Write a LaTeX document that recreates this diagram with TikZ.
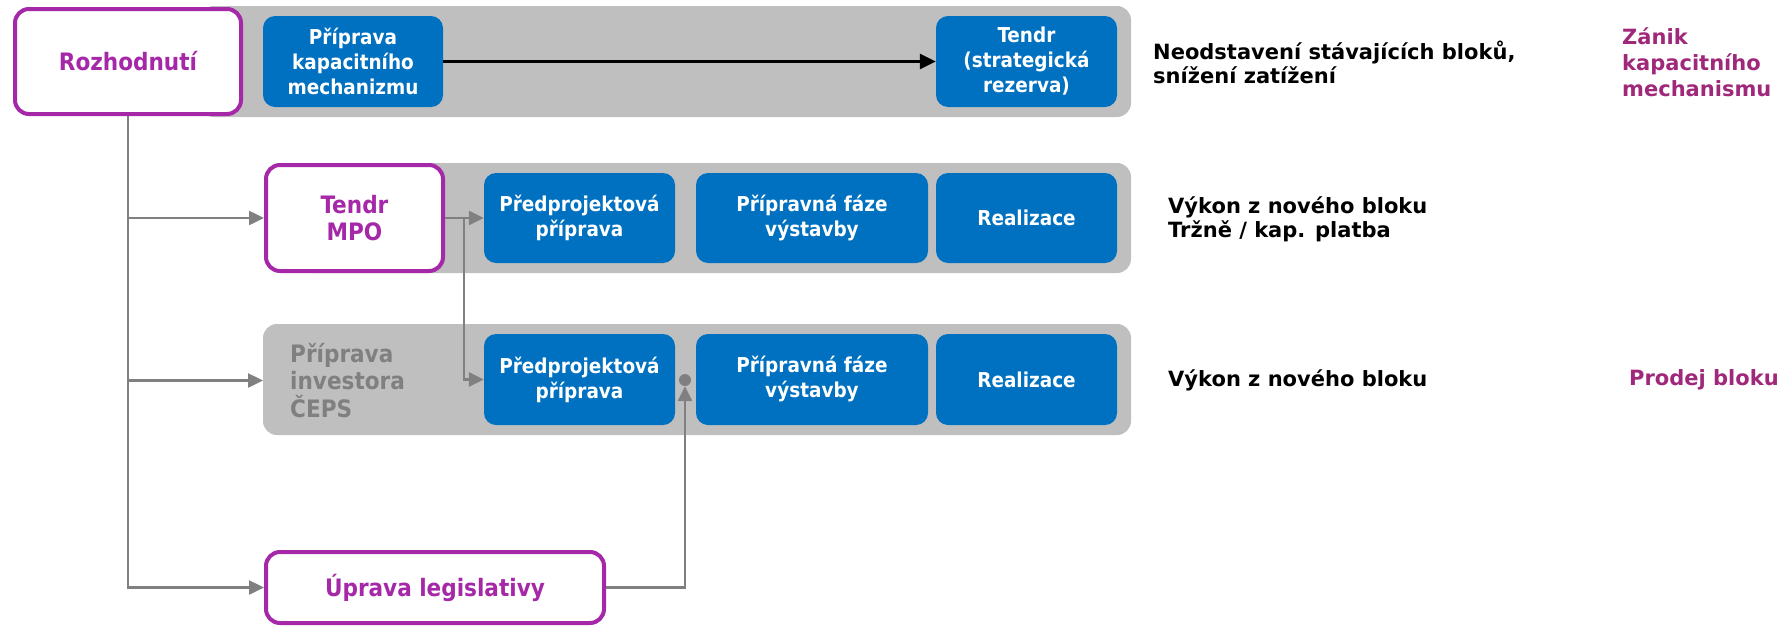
\documentclass[tikz,border=0pt]{standalone}
\usepackage{fontspec}
\setmainfont{DejaVu Sans}
\newfontfamily\condfont{DejaVu Sans Condensed}
\usetikzlibrary{arrows.meta}

\definecolor{boxblue}{HTML}{0070C0}
\definecolor{bandgray}{HTML}{BFBFBF}
\definecolor{linegray}{HTML}{808080}
\definecolor{decpurple}{HTML}{A528A8}
\definecolor{endpurple}{HTML}{A0287A}

\tikzset{
  band/.style={fill=bandgray, rounded corners=14pt},
  phase/.style={fill=boxblue, rounded corners=12pt, text=white, align=center,
    inner sep=0pt, font=\condfont\bfseries\fontsize{20.5}{25}\selectfont},
  decision/.style={draw=decpurple, line width=4pt, fill=white, rounded corners=14pt,
    text=decpurple, align=center, inner sep=0pt,
    font=\condfont\bfseries\fontsize{24}{27}\selectfont},
  cepslabel/.style={anchor=west, inner xsep=27pt, inner ysep=0pt, align=left,
    text=linegray, font=\condfont\bfseries\fontsize{24}{27.5}\selectfont},
  result/.style={anchor=west, align=left, inner sep=0pt,
    font=\bfseries\fontsize{21}{24}\selectfont},
  ending/.style={result, text=endpurple, font=\bfseries\fontsize{21}{26}\selectfont},
  flow/.style={draw=linegray, line width=2.5pt, -{Triangle[length=15pt,width=14pt]}},
}

\begin{document}
\begin{tikzpicture}[x=1pt,y=-1pt]
	\useasboundingbox (0,0) rectangle (1792,627);
	% bands
	\fill[band] (200,6) rectangle (1131,117);
	\fill[band] (300,163) rectangle (1131,273);
	\fill[band] (263,324) rectangle (1131,435);

	% decisions
	\node[decision, minimum width=226pt, minimum height=105pt] (rozh) at (128,61.5) {Rozhodnutí};
	\node[decision, minimum width=177pt, minimum height=106pt] (mpo) at (354.5,218) {Tendr\\MPO};
	\node[decision, minimum width=338pt, minimum height=71pt] (uprava) at (435,587.5) {Úprava legislativy};
	\node[cepslabel] (ceps) at (263,380.5) {Příprava\\investora\\ČEPS};

	% row 1
	\node[phase, minimum width=180pt, minimum height=91pt] (prip) at (353,61.5) {Příprava\\kapacitního\\mechanizmu};
	\node[phase, minimum width=181pt, minimum height=91pt] (rezerva) at (1026.5,61.5) {Tendr\\(strategická\\rezerva)};
	% row 2
	\node[phase, minimum width=191pt, minimum height=90pt] (pred2) at (579.5,218) {Předprojektová\\příprava};
	\node[phase, minimum width=232pt, minimum height=90pt] (vyst2) at (812,218) {Přípravná fáze\\výstavby};
	\node[phase, minimum width=181pt, minimum height=90pt] (real2) at (1026.5,218) {Realizace};
	% row 3
	\node[phase, minimum width=191pt, minimum height=91pt] (pred3) at (579.5,379.5) {Předprojektová\\příprava};
	\node[phase, minimum width=232pt, minimum height=91pt] (vyst3) at (812,379.5) {Přípravná fáze\\výstavby};
	\node[phase, minimum width=181pt, minimum height=91pt] (real3) at (1026.5,379.5) {Realizace};
	\node[circle, fill=linegray, inner sep=0pt, minimum size=12pt] (dot) at (685,380) {};

	% outcomes
	\node[result] (out1) at (1153,62) {Neodstavení stávajících bloků,\\snížení zatížení};
	\node[result] (out2) at (1168,219.5) {Výkon z nového bloku\\Tržně / kap. platba};
	\node[result] (out3) at (1168,380) {Výkon z nového bloku};
	\node[ending] (end1) at (1622,62) {Zánik\\kapacitního\\mechanismu};
	\node[ending] (end3) at (1629,380) {Prodej bloku};

	% arrows
	\draw[line width=3pt, -{Triangle[length=16pt,width=15pt]}] (prip) -- (rezerva);
	\draw[flow] (rozh.south) |- (mpo.west);
	\draw[flow] (rozh.south) |- (ceps.west);
	\draw[flow] (rozh.south) |- (uprava.west);
	\draw[flow] (mpo.east) -- (pred2.west);
	\draw[flow] (mpo.east) -- ++(19,0) |- (pred3.west);
	\draw[flow] (uprava.east) -| (dot.south);
\end{tikzpicture}
\end{document}
